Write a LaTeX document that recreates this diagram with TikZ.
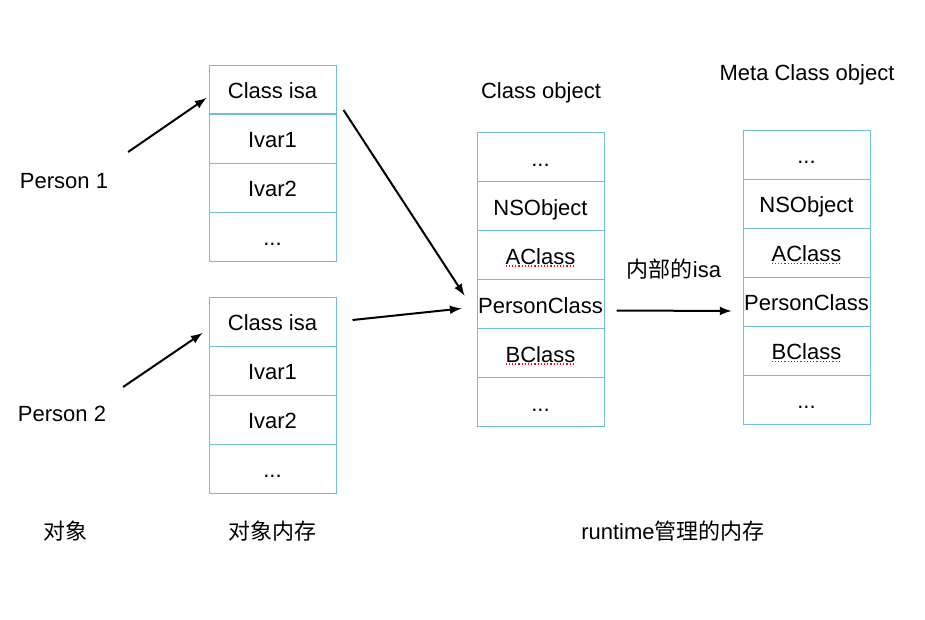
\documentclass[tikz,border=0pt]{standalone}
\usepackage{fontspec}
\setmainfont{Liberation Sans}
\newfontfamily\cjk{Noto Sans CJK SC}
\usetikzlibrary{matrix}
\definecolor{cellblue}{RGB}{110,190,218}
\tikzset{my arrow/.style={-latex, line width=1pt, black}}
\tikzstyle{cell} = [draw=cellblue, line width=0.5pt, minimum width=63.5pt, minimum height=24.5pt, inner sep=0pt, text height=10pt, text depth=1pt]
\tikzstyle{spell} = [red, densely dotted, line width=0.6pt]

\begin{document}
\begin{tikzpicture}[x=0.5pt, y=-0.5pt]
  \tikzstyle{every node}=[font=\fontsize{11}{13}\selectfont]
  \useasboundingbox (0,0) rectangle (925,620);

  % object memory
  \matrix (objA) [row sep=-0.5pt, nodes={cell}] at (272.5,163)
  {
	\node (isaA)   {Class isa};\\
	\node (ivaA)   {Ivar1};\\
	\node (ivbA)   {Ivar2};\\
	\node (dotsA)  {...};\\
  };
  \matrix (objB) [row sep=-0.5pt, nodes={cell}] at (272.5,395)
  {
	\node (isaB)   {Class isa};\\
	\node (ivaB)   {Ivar1};\\
	\node (ivbB)   {Ivar2};\\
	\node (dotsB)  {...};\\
  };

  % runtime memory
  \matrix (clsobj) [row sep=-0.5pt, nodes={cell}] at (540.5,279.5)
  {
	\node (cdots1) {...};\\
	\node (cnso)   {NSObject};\\
	\node (cacls)  {AClass};\\
	\node (cpers)  {PersonClass};\\
	\node (cbcls)  {BClass};\\
	\node (cdots2) {...};\\
  };
  \matrix (metaobj) [row sep=-0.5pt, nodes={cell}] at (806.5,277)
  {
	\node (mdots1) {...};\\
	\node (mnso)   {NSObject};\\
	\node (macls)  {AClass};\\
	\node (mpers)  {PersonClass};\\
	\node (mbcls)  {BClass};\\
	\node (mdots2) {...};\\
  };

  \draw [spell] ([shift={(-35,11)}]cacls.center) -- ([shift={(35,11)}]cacls.center);
  \draw [spell] ([shift={(-35,11)}]cbcls.center) -- ([shift={(35,11)}]cbcls.center);
  \draw [spell] ([shift={(-35,11)}]macls.center) -- ([shift={(35,11)}]macls.center);
  \draw [spell] ([shift={(-35,11)}]mbcls.center) -- ([shift={(35,11)}]mbcls.center);

  % labels
  \node (p1)       at (64,181)  {Person 1};
  \node (p2)       at (62,414)  {Person 2};
  \node (clstitle) at (541,93)  {Class object};
  \node (mtitle)   at (807,75)  {Meta Class object};
  \node (inisa)    at (674,269) {{\cjk 内部的}isa};
  \node (objlbl)   at (65,531)  {\cjk 对象};
  \node (memlbl)   at (272,531) {\cjk 对象内存};
  \node (rtlbl)    at (673,531) {runtime{\cjk 管理的内存}};

  % arrows
  \draw [my arrow] ([shift={(13,-29)}]p1.east)   -- ([shift={(-2,8.5)}]isaA.west);
  \draw [my arrow] ([shift={(10,-27)}]p2.east)   -- ([shift={(-6,11.5)}]isaB.west);
  \draw [my arrow] ([shift={(7,20.5)}]isaA.east) -- ([shift={(-12,-8.5)}]cpers.west);
  \draw [my arrow] ([shift={(16,-1.5)}]isaB.east) -- ([shift={(-15,4.5)}]cpers.west);
  \draw [my arrow] ([shift={(12,6.5)}]cpers.east) -- ([shift={(-11,9.5)}]mpers.west);
\end{tikzpicture}
\end{document}
